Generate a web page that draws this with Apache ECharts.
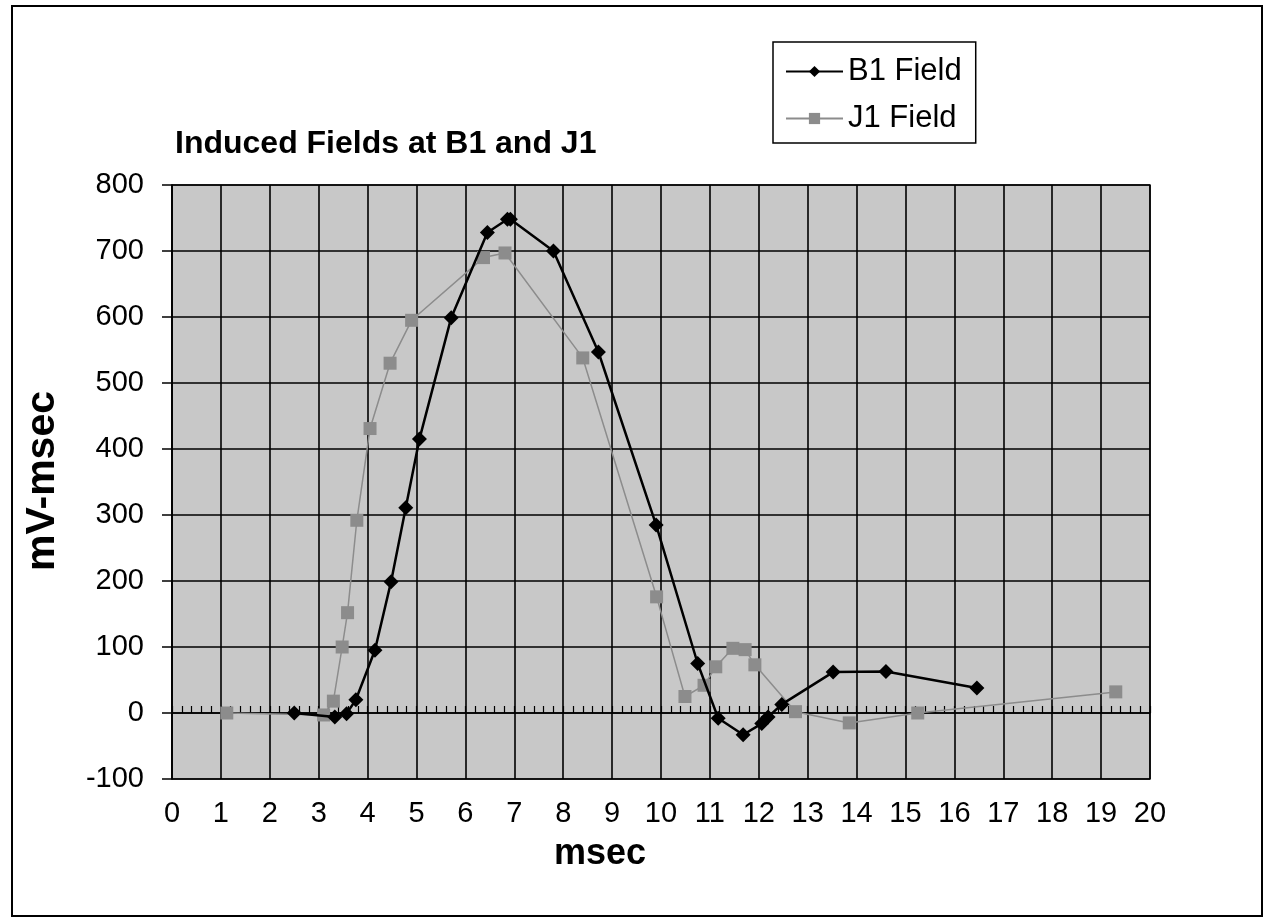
<!DOCTYPE html>
<html>

<head>
  <meta charset="utf-8">
  <title>Induced Fields</title>
  <script src="https://cdn.jsdelivr.net/npm/echarts/dist/echarts.min.js"></script>
  <style>
    body { margin: 0; background: #fff; }
  </style>
</head>

<body>
  <div id="main" style="width: 1265px;height:922px;"></div>
  <script type="text/javascript">
    // data (msec, mV-msec)
    var b1X = [2.5, 3.33, 3.57, 3.76, 4.15, 4.48, 4.78, 5.06, 5.71, 6.45, 6.86, 6.92, 7.8, 8.72, 9.9, 10.75, 11.17, 11.68, 12.06, 12.19, 12.47, 13.52, 14.6, 16.46];
    var b1Y = [0, -6, -1, 20, 95, 199, 311, 415, 599, 728, 748, 748, 700, 547, 285, 75, -8, -33, -16, -6, 13, 62, 63, 38];
    var j1X = [1.12, 3.1, 3.3, 3.48, 3.59, 3.78, 4.05, 4.46, 4.9, 6.37, 6.81, 8.4, 9.91, 10.49, 10.88, 11.12, 11.47, 11.72, 11.92, 12.75, 13.85, 15.25, 19.3];
    var j1Y = [0, -3, 18, 100, 152, 292, 431, 530, 595, 690, 697, 538, 176, 25, 42, 70, 98, 96, 73, 2, -15, 0, 32];
    var seriesNames = ['B1 Field', 'J1 Field'];

    function pairs(xs, ys) {
      var out = [];
      for (var i = 0; i < xs.length; i++) out.push([xs[i], ys[i]]);
      return out;
    }

    var myChart = echarts.init(document.getElementById('main'));
    var font = 'Liberation Sans, Arial, sans-serif';

    var option = {
      backgroundColor: '#fff',
      animation: false,
      title: {
        text: 'Induced Fields at B1 and J1',
        left: 175,
        top: 128,
        padding: 0,
        textStyle: { fontFamily: font, fontSize: 32, fontWeight: 'bold', color: '#000' }
      },
      legend: {
        data: seriesNames,
        orient: 'vertical',
        left: 773,
        top: 42,
        padding: [14, 14, 9, 12],
        itemGap: 16,
        itemWidth: 57,
        itemHeight: 14,
        borderColor: '#000',
        borderWidth: 1.5,
        textStyle: { fontFamily: font, fontSize: 31, color: '#000' }
      },
      grid: {
        left: 172,
        right: 115,
        top: 185,
        bottom: 143,
        show: true,
        backgroundColor: '#c8c8c8',
        borderColor: '#222',
        borderWidth: 1.5
      },
      xAxis: [{
        type: 'value',
        min: 0,
        max: 20,
        interval: 1,
        position: 'bottom',
        axisLine: { show: false, onZero: false },
        axisTick: { show: false },
        axisLabel: { fontFamily: font, fontSize: 29, color: '#000', margin: 20 },
        splitLine: { show: true, lineStyle: { color: '#000', width: 1.6 } }
      }, {
        type: 'value',
        min: 0,
        max: 20,
        interval: 1,
        position: 'bottom',
        axisLine: { show: true, onZero: true, lineStyle: { color: '#000', width: 1.6 } },
        axisTick: { show: true, inside: true, length: 7, lineStyle: { color: '#000', width: 1.2 } },
        minorTick: { show: true, splitNumber: 5, length: 7, lineStyle: { color: '#000', width: 1.2 } },
        axisLabel: { show: false },
        splitLine: { show: false }
      }],
      yAxis: {
        type: 'value',
        min: -100,
        max: 800,
        interval: 100,
        axisLine: { show: true, onZero: false, lineStyle: { color: '#000', width: 1.6 } },
        axisTick: { show: true, length: 10, lineStyle: { color: '#000', width: 1.5 } },
        axisLabel: { fontFamily: font, fontSize: 29, color: '#000', margin: 28 },
        splitLine: { show: true, lineStyle: { color: '#000', width: 1.6 } }
      },
      graphic: [{
        type: 'rect',
        shape: { x: 12, y: 6, width: 1250, height: 910 },
        style: { fill: 'none', stroke: '#000', lineWidth: 2 },
        silent: true
      }, {
        type: 'text',
        x: 600,
        y: 854,
        style: {
          text: 'msec', fontFamily: font, fontSize: 36, fontWeight: 'bold', fill: '#000',
          textAlign: 'center', textVerticalAlign: 'middle'
        }
      }, {
        type: 'text',
        x: 43,
        y: 481,
        rotation: Math.PI / 2,
        style: {
          text: 'mV-msec', fontFamily: font, fontSize: 41, fontWeight: 'bold', fill: '#000',
          textAlign: 'center', textVerticalAlign: 'middle'
        }
      }],
      series: [{
        name: seriesNames[0],
        type: 'line',
        data: pairs(b1X, b1Y),
        symbol: 'diamond',
        symbolSize: 15,
        showAllSymbol: true,
        itemStyle: { color: '#000' },
        lineStyle: { color: '#000', width: 2.5 },
        z: 3
      }, {
        name: seriesNames[1],
        type: 'line',
        data: pairs(j1X, j1Y),
        symbol: 'rect',
        symbolSize: 13,
        showAllSymbol: true,
        itemStyle: { color: '#8c8c8c' },
        lineStyle: { color: '#8c8c8c', width: 1.5 },
        z: 2
      }]
    };

    myChart.setOption(option);
  </script>
</body>

</html>
